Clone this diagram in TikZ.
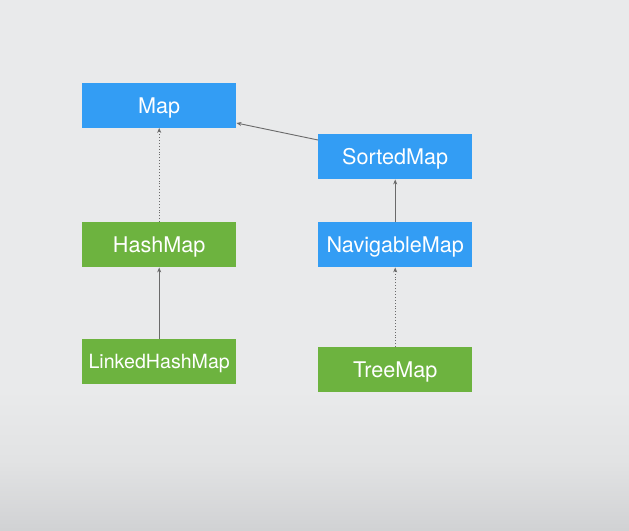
\documentclass[tikz,border=0pt]{standalone}
\usepackage{fontspec}
\setmainfont{TeX Gyre Heros}
\usetikzlibrary{arrows.meta}
\definecolor{bgtop}{HTML}{E9EAEB}
\definecolor{bgmid}{HTML}{E2E3E4}
\definecolor{bgbot}{HTML}{D1D2D4}
\definecolor{iblue}{HTML}{339DF4}
\definecolor{cgreen}{HTML}{6DB33F}
\definecolor{lnk}{HTML}{6A6A6A}
\tikzset{
  box/.style={draw=none, minimum width=154pt, minimum height=45pt, inner sep=0pt,
    text depth=0pt, text=white, font=\fontsize{21.6}{26}\selectfont, anchor=north west},
  iface/.style={box, fill=iblue},
  cls/.style={box, fill=cgreen},
  inh/.style={draw=lnk, line width=0.9pt, -{Stealth[length=5pt,width=4pt]}},
  impl/.style={inh, dotted},
}
\begin{document}
\begin{tikzpicture}[x=1pt,y=-1pt]
\useasboundingbox (0,0) rectangle (629,530);
\fill[bgtop] (0,0) rectangle (629,530);
\shade[top color=bgtop, bottom color=bgbot, middle color=bgmid] (0,390) rectangle (629,530);
\node[iface] (map) at (82,82.5) {Map};
\node[iface] (sorted) at (318,134) {SortedMap};
\node[cls] (hash) at (82,222) {HashMap};
\node[iface] (nav) at (318,222) {NavigableMap};
\node[cls, font=\fontsize{19.6}{24}\selectfont] (linked) at (82,339) {LinkedHashMap};
\node[cls] (tree) at (318,347) {TreeMap};
\draw[inh] (sorted.north west) ++(0,6) coordinate (s1) -- (map.south east |- 0,123) coordinate (m1);
\draw[impl] (hash.north) -- (map.south);
\draw[inh] (linked.north) -- (hash.south);
\draw[inh] (nav.north) -- (sorted.south);
\draw[impl] (tree.north) -- (nav.south);
\end{tikzpicture}
\end{document}
